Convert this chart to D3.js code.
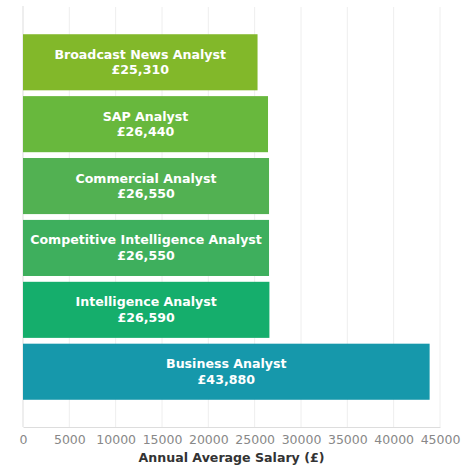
<!DOCTYPE html>
<html>
<head>
<meta charset="utf-8">
<script src="https://cdn.jsdelivr.net/npm/d3@7"></script>
<style>
  body { margin: 0; background: #fff; }
  text { font-family: "DejaVu Sans", sans-serif; }
</style>
</head>
<body>
<script>
//// Data ////
const JOBS = ["Broadcast News Analyst", "SAP Analyst", "Commercial Analyst",
  "Competitive Intelligence Analyst", "Intelligence Analyst", "Business Analyst"]
const SALARIES = [25310, 26440, 26550, 26550, 26590, 43880]
const COLORS = ["#82b82a", "#68b83d", "#52b152", "#3eaf5d", "#15ae6c", "#1698ab"]
const X_TICKS = [0, 5000, 10000, 15000, 20000, 25000, 30000, 35000, 40000, 45000]
const X_TITLE = "Annual Average Salary (£)"

//// Layout ////
const WIDTH = 474
const HEIGHT = 474
const margin = { top: 7, right: 34, bottom: 47, left: 23 }

const svg = d3.select("body").append("svg")
  .attr("width", WIDTH)
  .attr("height", HEIGHT)

const x = d3.scaleLinear()
  .domain([0, 45000])
  .range([margin.left, WIDTH - margin.right])

const y = d3.scaleBand()
  .domain(JOBS)
  .range([margin.top, HEIGHT - margin.bottom])
  .paddingInner(0.094)
  .paddingOuter(0.44)

// grid
svg.append("g")
  .selectAll("line")
  .data(X_TICKS.slice(1))
  .join("line")
  .attr("x1", d => x(d)).attr("x2", d => x(d))
  .attr("y1", margin.top).attr("y2", HEIGHT - margin.bottom)
  .attr("stroke", "#eeeeee")
  .attr("stroke-width", 1)

// left axis line
svg.append("line")
  .attr("x1", x(0)).attr("x2", x(0))
  .attr("y1", margin.top - 1).attr("y2", HEIGHT - margin.bottom)
  .attr("stroke", "#dddddd")

// bars
const bars = svg.append("g")
  .selectAll("g")
  .data(JOBS.map((j, i) => ({ job: j, value: SALARIES[i], color: COLORS[i] })))
  .join("g")

bars.append("rect")
  .attr("x", x(0))
  .attr("y", d => y(d.job))
  .attr("width", d => x(d.value) - x(0))
  .attr("height", y.bandwidth())
  .attr("fill", d => d.color)

bars.append("text")
  .attr("x", d => (x(0) + x(d.value)) / 2)
  .attr("y", d => y(d.job) + y.bandwidth() / 2 - 3.5)
  .attr("text-anchor", "middle")
  .attr("fill", "#fff")
  .attr("font-size", 12.6)
  .attr("font-weight", "bold")
  .text(d => d.job)

bars.append("text")
  .attr("x", d => (x(0) + x(d.value)) / 2)
  .attr("y", d => y(d.job) + y.bandwidth() / 2 + 12)
  .attr("text-anchor", "middle")
  .attr("fill", "#fff")
  .attr("font-size", 12.6)
  .attr("font-weight", "bold")
  .text(d => "£" + d3.format(",")(d.value))

// x axis
const xAxis = svg.append("g")
  .attr("transform", `translate(0,${HEIGHT - margin.bottom})`)
  .call(d3.axisBottom(x).tickValues(X_TICKS).tickFormat(d3.format("d")).tickSize(0).tickPadding(8))

xAxis.select(".domain").attr("stroke", "#dddddd")
xAxis.selectAll("text")
  .attr("fill", "#888888")
  .attr("font-size", 12.5)
  .attr("font-family", "DejaVu Sans, sans-serif")

svg.append("text")
  .attr("x", (x(0) + x(45000)) / 2)
  .attr("y", HEIGHT - 12)
  .attr("text-anchor", "middle")
  .attr("fill", "#333333")
  .attr("font-size", 12.6)
  .attr("font-weight", "bold")
  .text(X_TITLE)
</script>
</body>
</html>
